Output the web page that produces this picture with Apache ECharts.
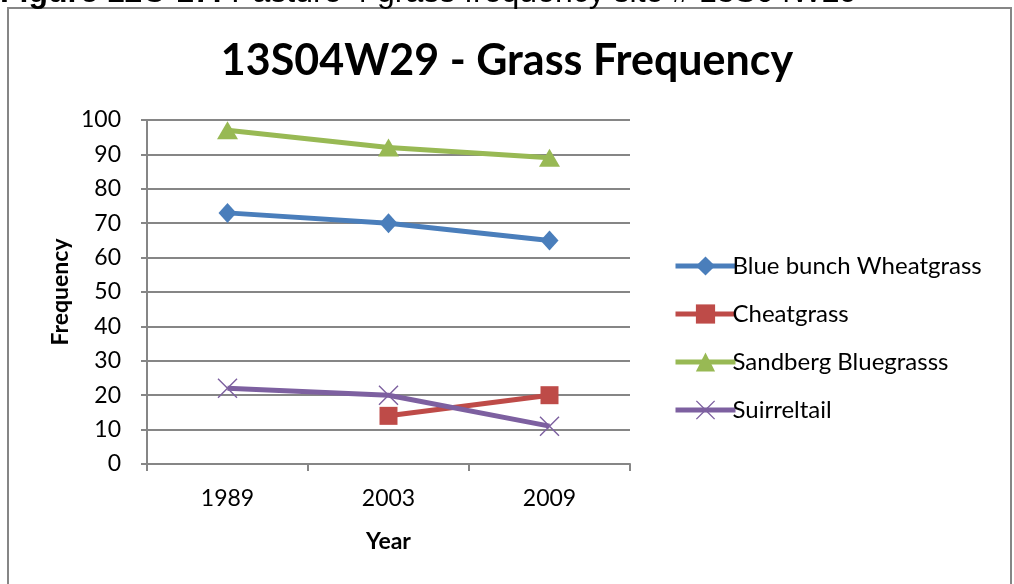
<!DOCTYPE html>
<html>
<head>
<meta charset="utf-8">
<script src="https://cdn.jsdelivr.net/npm/echarts@6/dist/echarts.min.js"></script>
<style>
  html, body { margin: 0; padding: 0; background: #ffffff; }
  #chart { width: 1014px; height: 584px; }
</style>
</head>
<body>
<div id="chart"></div>
<script>
// Survey years and grass frequency per species (percent of plots)
const years = ['1989', '2003', '2009'];
const blueBunchWheatgrass = [73, 70, 65];
const cheatgrass = [null, 14, 20];
const sandbergBluegrass = [97, 92, 89];
const squirreltail = [22, 20, 11];
const yTicks = { min: 0, max: 100, interval: 10 };

const FONT = 'Lato, "Open Sans", sans-serif';
const GRAY = '#868686';
const crossPath = 'path://M1,0 L10,9 L19,0 L20,1 L11,10 L20,19 L19,20 L10,11 L1,20 L0,19 L9,10 L0,1 Z';

function lineSeries(name, data, color, symbol, size) {
  return {
    name: name,
    type: 'line',
    data: data,
    symbol: symbol,
    symbolSize: size,
    showAllSymbol: true,
    connectNulls: false,
    lineStyle: { color: color, width: 5 },
    itemStyle: { color: color, borderWidth: 0 },
    emphasis: { disabled: true },
    z: 3
  };
}

const chart = echarts.init(document.getElementById('chart'), null, { renderer: 'canvas' });
chart.setOption({
  animation: false,
  backgroundColor: '#ffffff',
  title: {
    text: '13S04W29 - Grass Frequency',
    left: 'center',
    top: 35,
    textStyle: { fontFamily: FONT, fontWeight: 'bold', fontSize: 43, color: '#000000' }
  },
  graphic: [
    {
      type: 'rect',
      shape: { x: 8, y: 8, width: 1003, height: 600 },
      style: { fill: 'none', stroke: GRAY, lineWidth: 2 },
      silent: true, z: -1
    },
    {
      type: 'text',
      left: 0,
      top: -23,
      style: {
        text: '{b|Figure 12C-17:} Pasture 4 grass frequency site # 13S04W29',
        rich: {
          b: { fontFamily: 'Liberation Sans, Arial, sans-serif', fontWeight: 'bold', fontSize: 32, fill: '#000' }
        },
        fontFamily: 'Liberation Sans, Arial, sans-serif',
        fontSize: 32,
        fill: '#000'
      },
      silent: true
    }
  ],
  legend: {
    orient: 'vertical',
    left: 668,
    top: 249,
    itemGap: 24,
    itemWidth: 60,
    itemHeight: 24,
    lineStyle: { width: 5 },
    textStyle: { fontFamily: FONT, fontSize: 24, color: '#000', padding: [0, 0, 0, -8] },
    data: ['Blue bunch Wheatgrass', 'Cheatgrass', 'Sandberg Bluegrasss', 'Suirreltail']
  },
  grid: { left: 147, right: 384, top: 120, bottom: 120, containLabel: false },
  xAxis: {
    type: 'category',
    data: years,
    boundaryGap: true,
    name: 'Year',
    nameLocation: 'middle',
    nameGap: 66,
    nameTextStyle: { fontFamily: FONT, fontWeight: 'bold', fontSize: 23, color: '#000' },
    axisLine: { lineStyle: { color: GRAY, width: 2 } },
    axisTick: { show: true, length: 7, alignWithLabel: false, lineStyle: { color: GRAY, width: 2 } },
    axisLabel: { fontFamily: FONT, fontSize: 23, color: '#000', margin: 23 },
    splitLine: { show: false }
  },
  yAxis: {
    type: 'value',
    min: yTicks.min,
    max: yTicks.max,
    interval: yTicks.interval,
    name: 'Frequency',
    nameLocation: 'middle',
    nameGap: 75,
    nameRotate: 90,
    nameTextStyle: { fontFamily: FONT, fontWeight: 'bold', fontSize: 23, color: '#000' },
    axisLine: { show: true, lineStyle: { color: GRAY, width: 2 } },
    axisTick: { show: true, length: 6, lineStyle: { color: GRAY, width: 2 } },
    axisLabel: { fontFamily: FONT, fontSize: 23, color: '#000', margin: 26 },
    splitLine: { show: true, lineStyle: { color: GRAY, width: 2 } }
  },
  series: [
    lineSeries('Blue bunch Wheatgrass', blueBunchWheatgrass, '#4a7ebb', 'diamond', [18, 20]),
    lineSeries('Cheatgrass', cheatgrass, '#be4b48', 'rect', 18),
    lineSeries('Sandberg Bluegrasss', sandbergBluegrass, '#98b954', 'triangle', [21, 18]),
    lineSeries('Suirreltail', squirreltail, '#7d60a0', crossPath, 20)
  ]
});
</script>
</body>
</html>
